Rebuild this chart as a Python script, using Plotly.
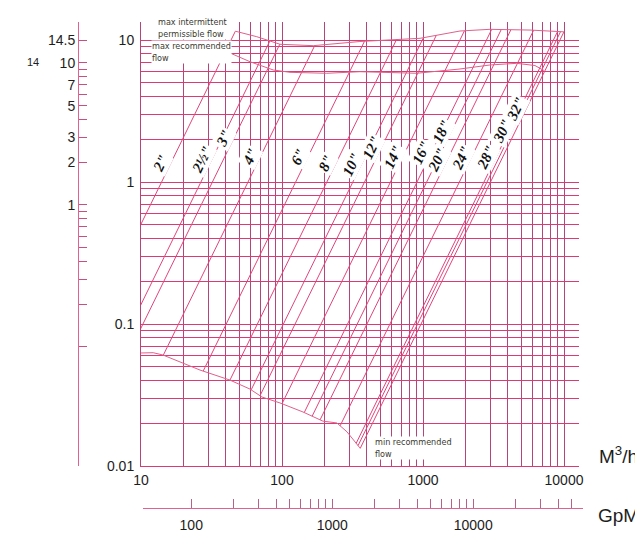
import numpy as np
import plotly.graph_objects as go

# ------------------------------------------------------------------ data
x_tick_labels = ["10", "100", "1000", "10000"]
y_tick_labels = ["0.01", "0.1", "1", "10"]
gpm_tick_labels = ["100", "1000", "10000"]
psi_labelled = [14.5, 10, 7, 5, 3, 2, 1]
psi_unlabelled = [9, 8, 6, 4, 0.9, 0.8, 0.7, 0.6, 0.5, 0.4, 0.3, 0.2, 0.1]

pipe_sizes = ['2"', '2½"', '3"', '4"', '6"', '8"', '10"', '12"', '14"',
              '16"', '18"', '20"', '24"', '28"', '30"', '32"']
# flow (m3/h) at which each pipe line crosses a loss of 1
pipe_q_at_1 = [14.0, 26.6, 32.1, 57.4, 125, 208, 318, 385, 588,
               907, 1062, 1245, 1812, 2707, 2844, 3011]
# loss level at which each size label sits
pipe_label_dp = [1.36, 1.43, 2.04, 1.50, 1.51, 1.36, 1.32, 1.74, 1.51,
                 1.60, 2.26, 1.43, 1.48, 1.48, 2.26, 3.25]
pipe_slope = 2.03

min_flow_q = [10, 12.2, 14.3, 19.9, 26.2, 42.7, 59.3, 72.1, 96.8, 141, 195, 245, 289, 357]
min_flow_dp = [0.0625, 0.0628, 0.0605, 0.0531, 0.0474, 0.0403, 0.0348, 0.0306,
               0.0278, 0.0240, 0.0207, 0.0201, 0.0174, 0.0134]

max_int_q = [48.2, 66.2, 96.8, 166.7, 357, 953, 1829, 2985, 5741, 9638]
max_int_dp = [11.44, 10.55, 9.33, 9.12, 9.76, 10.28, 11.57, 11.89, 11.75, 11.44]

max_rec_q = [39.7, 59.3, 86.7, 114, 207.5, 357, 902, 1829, 2985, 4619, 6223, 7211]
max_rec_dp = [8.37, 7.03, 6.15, 5.92, 5.83, 5.98, 5.83, 6.25, 6.67, 6.85, 6.61, 6.10]

GPM_PER_M3H = 4.403
PSI_FACTOR = 1.45

# ------------------------------------------------------------------ layout geometry
# The page body adds an 8 px offset, so the figure is laid out 8 px smaller.
OFF = 8
W, H = 643 - OFF, 538 - OFF
PAPER_L, PAPER_R, PAPER_T, PAPER_B = 20, 583, 22, 518   # window pixels
ML, MR = PAPER_L - OFF, W - (PAPER_R - OFF)
MT, MB = PAPER_T - OFF, H - (PAPER_B - OFF)
PW, PH = PAPER_R - PAPER_L, PAPER_B - PAPER_T


def paper_x(px):
    return (px - PAPER_L) / PW


def paper_y(py):
    return (PAPER_B - py) / PH


X_LEFT, X_RIGHT = 141, 579      # main plot area in window pixels
Y_TOP, Y_BOTTOM = 22, 466
PX_PER_DEC_X, PX_PER_DEC_Y = 141.0, 142.0
x_range = [1.0, 1.0 + (X_RIGHT - X_LEFT) / PX_PER_DEC_X]
y_range = [-2.0, -2.0 + (Y_BOTTOM - Y_TOP) / PX_PER_DEC_Y]

V_GRID = "#b2457a"
H_GRID = "#dc3a72"
PIPE_COL = "#e0457c"
CURVE_COL = "#e0608c"
SCALE_COL = "#e0628f"
TXT = "#1d1d1d"
SANS = "Liberation Sans, Arial, sans-serif"


def crossing(lq1, xs, ys):
    lx = np.log10(np.asarray(xs, float))
    ly = np.log10(np.asarray(ys, float))
    f = pipe_slope * (lx - lq1) - ly
    for i in range(len(lx) - 1):
        if f[i] * f[i + 1] <= 0 and f[i] != f[i + 1]:
            t = f[i] / (f[i] - f[i + 1])
            return lx[i] + t * (lx[i + 1] - lx[i])
    i = 0 if abs(f[0]) < abs(f[-1]) else len(lx) - 2
    t = f[i] / (f[i] - f[i + 1])
    return lx[i] + t * (lx[i + 1] - lx[i])


fig = go.Figure()

tops, bots = [], []
for size, q1 in zip(pipe_sizes, pipe_q_at_1):
    lq1 = np.log10(q1)
    lb = crossing(lq1, min_flow_q, min_flow_dp)
    lt = crossing(lq1, max_int_q, max_int_dp)
    bots.append(lb)
    tops.append(lt)
    xs = [10 ** lb, 10 ** lt]
    ys = [10 ** (pipe_slope * (lb - lq1)), 10 ** (pipe_slope * (lt - lq1))]
    fig.add_trace(go.Scatter(x=xs, y=ys, mode="lines",
                             line=dict(color=PIPE_COL, width=1),
                             hoverinfo="skip", showlegend=False))

# boundary curves (joined to the outer pipe lines)
lq_first, lq_last = np.log10(pipe_q_at_1[0]), np.log10(pipe_q_at_1[-1])
mi_x = list(max_int_q)
mi_y = list(max_int_dp)
if 10 ** tops[0] < mi_x[0]:
    mi_x = [10 ** tops[0]] + mi_x
    mi_y = [10 ** (pipe_slope * (tops[0] - lq_first))] + mi_y
if 10 ** tops[-1] > mi_x[-1]:
    mi_x = mi_x + [10 ** tops[-1]]
    mi_y = mi_y + [10 ** (pipe_slope * (tops[-1] - lq_last))]
mn_x = list(min_flow_q)
mn_y = list(min_flow_dp)
if 10 ** bots[-1] > mn_x[-1]:
    mn_x = mn_x + [10 ** bots[-1]]
    mn_y = mn_y + [10 ** (pipe_slope * (bots[-1] - lq_last))]

for cx, cy in [(mi_x, mi_y), (max_rec_q, max_rec_dp), (mn_x, mn_y)]:
    fig.add_trace(go.Scatter(x=cx, y=cy, mode="lines",
                             line=dict(color=CURVE_COL, width=1),
                             hoverinfo="skip", showlegend=False))

# carrier traces for the extra scales
fig.add_trace(go.Scatter(x=[100], y=[1], yaxis="y2", mode="markers",
                         marker=dict(opacity=0), hoverinfo="skip", showlegend=False))
fig.add_trace(go.Scatter(x=[1000], y=[0.5], xaxis="x2", yaxis="y3", mode="markers",
                         marker=dict(opacity=0), hoverinfo="skip", showlegend=False))

# ------------------------------------------------------------------ axes
grid_x = [m * 10 ** e for e in (1, 2, 3) for m in range(1, 10)] + [10000]
grid_x_text = [x_tick_labels[[1, 2, 3].index(e)] if m == 1 else ""
               for e in (1, 2, 3) for m in range(1, 10)] + [x_tick_labels[3]]
grid_y = [m * 10.0 ** e for e in (-2, -1, 0) for m in range(1, 10)] + [10]
grid_y_text = [y_tick_labels[[-2, -1, 0].index(e)] if m == 1 else ""
               for e in (-2, -1, 0) for m in range(1, 10)] + [y_tick_labels[3]]

gpm_vals = [m * 10 ** e for e in (2, 3, 4) for m in range(1, 10)
            if m * 10 ** e <= 60000]
gpm_text = [gpm_tick_labels[[2, 3, 4].index(e)] if m == 1 else ""
            for e in (2, 3, 4) for m in range(1, 10) if m * 10 ** e <= 60000]

psi_vals = psi_labelled + psi_unlabelled
psi_text = [("%g" % v) for v in psi_labelled] + [""] * len(psi_unlabelled)

x_dom = [paper_x(X_LEFT), paper_x(X_RIGHT)]
gpm_left, gpm_right = 143, 583
gpm_range = [1 + (gpm_left - X_LEFT) / PX_PER_DEC_X + np.log10(GPM_PER_M3H),
             1 + (gpm_right - X_LEFT) / PX_PER_DEC_X + np.log10(GPM_PER_M3H)]

fig.update_layout(
    width=W, height=H,
    margin=dict(l=ML, r=MR, t=MT, b=MB, autoexpand=False),
    paper_bgcolor="white", plot_bgcolor="white",
    showlegend=False,
    xaxis=dict(type="log", range=x_range, domain=x_dom, automargin=False,
               tickmode="array", tickvals=grid_x, ticktext=grid_x_text,
               showgrid=True, gridcolor=V_GRID, gridwidth=1,
               showline=True, linecolor=H_GRID, linewidth=1,
               ticks="", zeroline=False, ticklabelstandoff=1,
               tickfont=dict(family=SANS, size=14, color=TXT)),
    yaxis=dict(type="log", range=y_range, domain=[paper_y(Y_BOTTOM), paper_y(Y_TOP)],
               automargin=False,
               tickmode="array", tickvals=grid_y, ticktext=grid_y_text,
               showgrid=True, gridcolor=H_GRID, gridwidth=1,
               showline=True, linecolor=V_GRID, linewidth=1,
               ticks="", zeroline=False, ticklabelstandoff=3,
               tickfont=dict(family=SANS, size=14, color=TXT)),
    yaxis2=dict(type="log", overlaying="y", anchor="free", side="left",
                position=paper_x(78), automargin=False,
                range=[y_range[0] + np.log10(PSI_FACTOR), y_range[1] + np.log10(PSI_FACTOR)],
                tickmode="array", tickvals=psi_vals, ticktext=psi_text,
                showgrid=False, showline=True, linecolor=SCALE_COL, linewidth=1,
                ticks="inside", ticklen=8, tickcolor="#c8507e", tickwidth=1,
                zeroline=False,
                tickfont=dict(family=SANS, size=14, color=TXT)),
    xaxis2=dict(type="log", anchor="y3", domain=[paper_x(gpm_left), paper_x(gpm_right)],
                automargin=False,
                range=gpm_range, tickmode="array", tickvals=gpm_vals, ticktext=gpm_text,
                showgrid=False, showline=True, linecolor=SCALE_COL, linewidth=1,
                ticks="inside", ticklen=9, tickcolor="#b86088", tickwidth=1,
                zeroline=False, ticklabelstandoff=4,
                tickfont=dict(family=SANS, size=14, color=TXT)),
    yaxis3=dict(domain=[paper_y(508), paper_y(490)], anchor="x2", visible=False,
                automargin=False, range=[0, 1]),
)

# ------------------------------------------------------------------ annotations
ann = []
angle = -np.degrees(np.arctan(pipe_slope * PX_PER_DEC_Y / PX_PER_DEC_X))
for size, q1, ldp in zip(pipe_sizes, pipe_q_at_1, pipe_label_dp):
    lx = np.log10(q1) + np.log10(ldp) / pipe_slope
    ann.append(dict(x=lx, y=np.log10(ldp), xref="x", yref="y",
                    text="<b><i>%s</i></b>" % size, showarrow=False,
                    textangle=angle, xshift=-10, bgcolor="white", borderpad=1,
                    font=dict(family="Liberation Serif, Times New Roman, serif",
                              size=15, color="#111")))

note_font = dict(family="Liberation Sans Narrow, DejaVu Sans Condensed, Liberation Sans, Arial",
                 size=9, color="#3a3a30")
ann.append(dict(x=np.log10(13.0), y=np.log10(12.2), xref="x", yref="y",
                text="max intermittent<br>permissible flow", showarrow=False,
                xanchor="left", yanchor="middle", align="left",
                bgcolor="white", borderpad=0, font=note_font))
ann.append(dict(x=np.log10(11.8), y=np.log10(8.2), xref="x", yref="y",
                text="max recommended<br>flow", showarrow=False,
                xanchor="left", yanchor="middle", align="left",
                bgcolor="white", borderpad=0, font=note_font))
ann.append(dict(x=np.log10(449), y=np.log10(0.0134), xref="x", yref="y",
                text="min recommended<br>flow", showarrow=False,
                xanchor="left", yanchor="middle", align="left",
                bgcolor="white", borderpad=0, font=note_font))

ann.append(dict(x=paper_x(597), y=paper_y(455), xref="paper", yref="paper",
                text="M<sup>3</sup>/h", showarrow=False, xanchor="left", yanchor="middle",
                font=dict(family=SANS, size=19, color=TXT)))
ann.append(dict(x=paper_x(596), y=paper_y(515), xref="paper", yref="paper",
                text="GpM", showarrow=False, xanchor="left", yanchor="middle",
                font=dict(family=SANS, size=19, color=TXT)))
ann.append(dict(x=paper_x(33), y=paper_y(62), xref="paper", yref="paper",
                text="14", showarrow=False, xanchor="center", yanchor="middle",
                font=dict(family=SANS, size=11, color=TXT)))
fig.update_layout(annotations=ann)

fig.write_html("out.html")
